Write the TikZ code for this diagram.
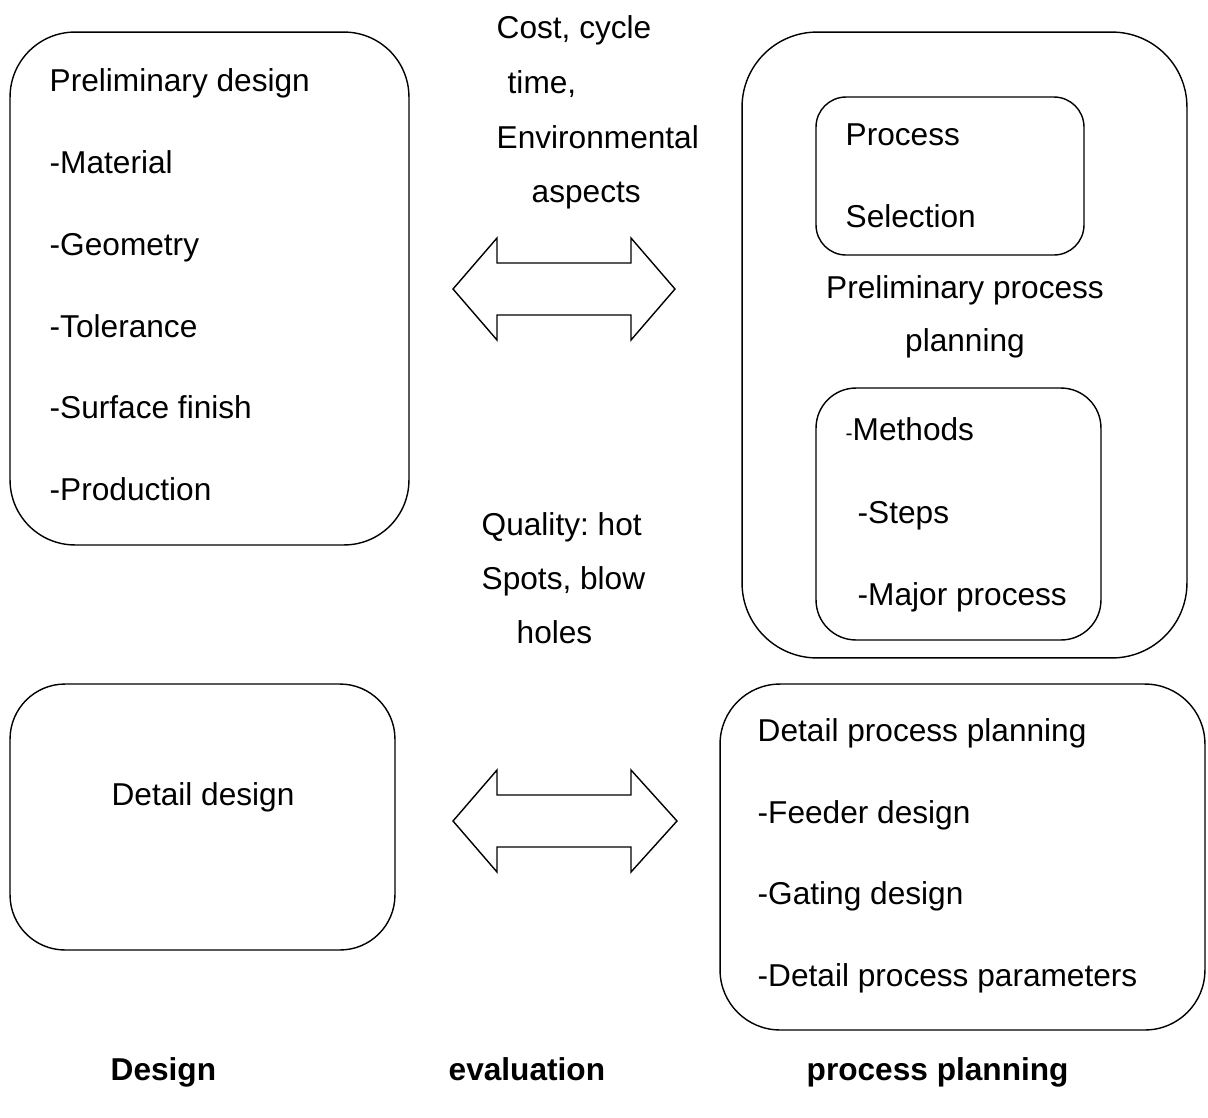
\documentclass[tikz,border=0pt]{standalone}
\usepackage{fontspec}
\setmainfont{Liberation Sans}
\frenchspacing
\usetikzlibrary{positioning}

\begin{document}
\begin{tikzpicture}[x=0.02cm,y=-0.02cm,line width=0.8pt,
                    every node/.style={font=\fontsize{18pt}{21.6pt}\selectfont},
                    box/.style={draw,rectangle,inner sep=0pt},
                    txt/.style={anchor=base west,inner sep=0pt},
                    ctxt/.style={anchor=base,inner sep=0pt}]
\useasboundingbox (0,0) rectangle (1208,1117);

% boxes
\node[box,minimum width=7.98cm,minimum height=10.26cm,rounded corners=1.3cm] (PrelimDesign) at (209.5,288.5) {};
\node[box,minimum width=8.9cm,minimum height=12.52cm,rounded corners=1.5cm] (PrelimPlanning) at (964.5,345) {};
\node[box,minimum width=5.36cm,minimum height=3.16cm,rounded corners=0.6cm] (Selection) at (950,176) {};
\node[box,minimum width=5.7cm,minimum height=5.04cm,rounded corners=0.8cm] (Methods) at (958.5,514) {};
\node[box,minimum width=7.7cm,minimum height=5.32cm,rounded corners=1.1cm] (DetailDesign) at (202.5,817) {};
\node[box,minimum width=9.7cm,minimum height=6.92cm,rounded corners=1.2cm] (DetailPlanning) at (962.5,857) {};

% double arrows
\foreach \yc/\xr in {289/675,821/677}
   \draw[line join=miter] (453,\yc) -- (497,\yc-51) -- (497,\yc-26) -- (631,\yc-26) -- (631,\yc-51)
      -- (\xr,\yc) -- (631,\yc+51) -- (631,\yc+26) -- (497,\yc+26) -- (497,\yc+51) -- cycle;

% preliminary design
\node[txt] (PD0) at (49,91) {Preliminary design};
\node[txt] (PD1) at (49,173) {-Material};
\node[txt] (PD2) at (49,255) {-Geometry};
\node[txt] (PD3) at (49,337) {-Tolerance};
\node[txt] (PD4) at (49,418) {-Surface finish};
\node[txt] (PD5) at (49,500) {-Production};

% evaluation texts
\node[txt] (Cost1) at (496,38) {Cost, cycle};
\node[txt] (Cost2) at (507,93) {time,};
\node[txt] (Cost3) at (496,148) {Environmental};
\node[txt] (Cost4) at (531,202) {aspects};

\node[txt] (Qual1) at (481,535) {Quality: hot};
\node[txt] (Qual2) at (481,589) {Spots, blow};
\node[txt] (Qual3) at (516,643) {holes};

% preliminary process planning
\node[txt] (Sel1) at (845,145) {Process};
\node[txt] (Sel2) at (845,227) {Selection};
\node[ctxt] (PP1) at (965,298) {Preliminary process};
\node[ctxt] (PP2) at (965,351) {planning};
\node[txt] (Meth1) at (845,440) {{\fontsize{12pt}{14pt}\selectfont -}Methods};
\node[txt] (Meth2) at (857,523) {-Steps};
\node[txt] (Meth3) at (857,605) {-Major process};

% detail design and planning
\node[ctxt] (DD) at (203,805) {Detail design};
\node[txt] (DP0) at (757,741) {Detail process planning};
\node[txt] (DP1) at (757,823) {-Feeder design};
\node[txt] (DP2) at (757,904) {-Gating design};
\node[txt] (DP3) at (757,986) {-Detail process parameters};

% column titles
\node[txt,font=\fontsize{18pt}{21.6pt}\selectfont\bfseries] (DesignLabel) at (110,1080) {Design};
\node[txt,font=\fontsize{18pt}{21.6pt}\selectfont\bfseries] (EvalLabel) at (448,1080) {evaluation};
\node[txt,font=\fontsize{18pt}{21.6pt}\selectfont\bfseries] (PlanLabel) at (806,1080) {process planning};

\end{tikzpicture}
\end{document}
